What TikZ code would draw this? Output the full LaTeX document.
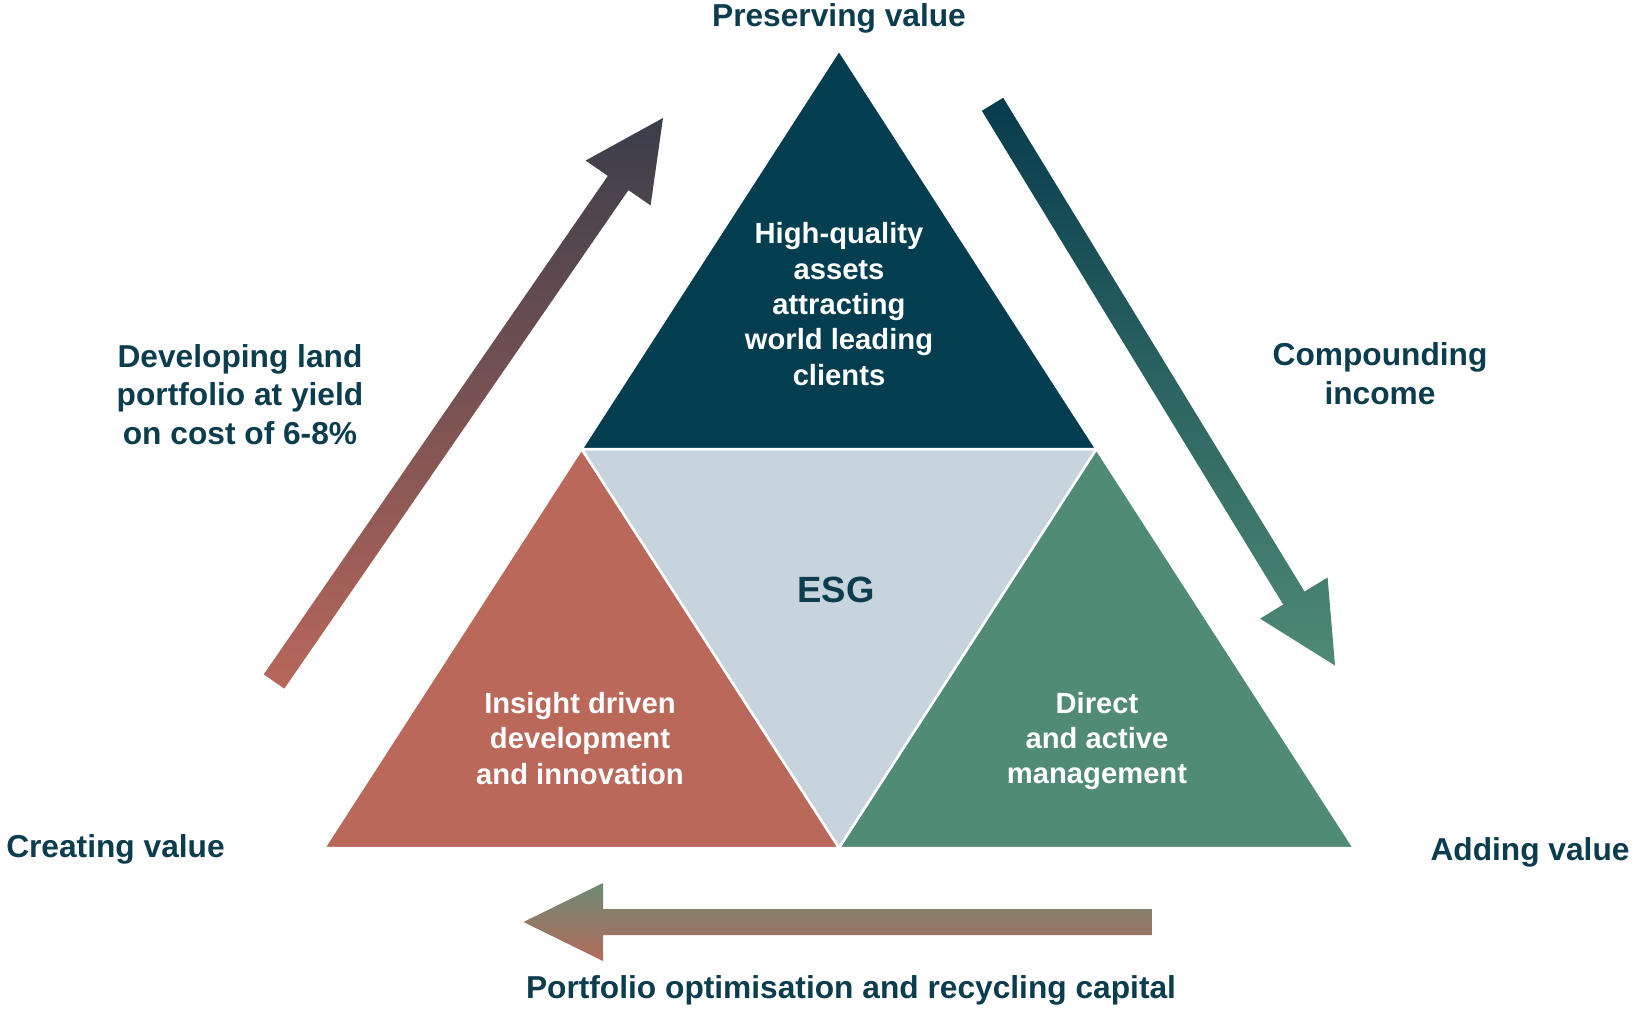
\documentclass[tikz,border=0pt]{standalone}
\usepackage{fontspec}
\setmainfont{Liberation Sans}
\usetikzlibrary{calc}
\definecolor{tealdark}{HTML}{023E50}
\definecolor{salmon}{HTML}{BA685A}
\definecolor{sage}{HTML}{508B76}
\definecolor{esgfill}{HTML}{C8D4DD}
\definecolor{labeltext}{HTML}{0B3D4F}
\definecolor{laTop}{HTML}{3A3E4B}
\definecolor{laBot}{HTML}{B9675A}
\definecolor{raTop}{HTML}{073C4D}
\definecolor{raBot}{HTML}{4F8A75}
\definecolor{baTop}{HTML}{6E8A74}
\definecolor{baBot}{HTML}{B26A5B}
\tikzset{
  tri/.style={draw=white, line width=2.5pt, line join=round},
  lbl/.style={text=labeltext, font=\bfseries\fontsize{31.7}{38.5}\selectfont, align=center, inner sep=0pt},
  innertxt/.style={text=white, font=\bfseries\fontsize{29.2}{35.3}\selectfont, align=center, inner sep=0pt},
  esgtxt/.style={text=labeltext, font=\bfseries\fontsize{36.5}{40}\selectfont, inner sep=0pt}
}
\begin{document}
\begin{tikzpicture}[x=1pt,y=-1pt]
\useasboundingbox (0,0) rectangle (1632,1009);
% triangle lattice
\coordinate (apex) at (839,50);
\coordinate (bl) at (324,848);
\coordinate (br) at (1354,848);
\coordinate (ml) at (581.5,449);
\coordinate (mr) at (1096.5,449);
\coordinate (mb) at (839,848);
\path[tri, fill=esgfill] (ml) -- (mr) -- (mb) -- cycle;
\path[tri, fill=salmon] (ml) -- (bl) -- (mb) -- cycle;
\path[tri, fill=sage] (mr) -- (mb) -- (br) -- cycle;
\path[tri, fill=tealdark] (apex) -- (ml) -- (mr) -- cycle;
% left arrow
\coordinate (LAtail) at (274,681.5);
\coordinate (LAtip) at (663,118);
\coordinate (LAhb) at ($(LAtip)!79pt!(LAtail)$);
\shade[top color=laTop, bottom color=laBot]
  ($(LAtail)!12.5pt!90:(LAtip)$) -- ($(LAhb)!12.5pt!90:(LAtip)$) -- ($(LAhb)!39.5pt!90:(LAtip)$) -- (LAtip)
  -- ($(LAhb)!39.5pt!-90:(LAtip)$) -- ($(LAhb)!12.5pt!-90:(LAtip)$) -- ($(LAtail)!12.5pt!-90:(LAtip)$) -- cycle;
% right arrow
\coordinate (RAtail) at (992.5,104.3);
\coordinate (RAtip) at (1335,665.5);
\coordinate (RAhb) at ($(RAtip)!79pt!(RAtail)$);
\shade[top color=raTop, bottom color=raBot]
  ($(RAtail)!12.5pt!90:(RAtip)$) -- ($(RAhb)!12.5pt!90:(RAtip)$) -- ($(RAhb)!39.5pt!90:(RAtip)$) -- (RAtip)
  -- ($(RAhb)!39.5pt!-90:(RAtip)$) -- ($(RAhb)!12.5pt!-90:(RAtip)$) -- ($(RAtail)!12.5pt!-90:(RAtip)$) -- cycle;
% bottom arrow
\coordinate (BAtail) at (1152,922);
\coordinate (BAtip) at (523.5,922);
\shade[top color=baTop, bottom color=baBot]
  ($(BAtail)+(0,-13)$) -- (603,909) -- (603,883) -- (BAtip) -- (603,961) -- (603,935) -- ($(BAtail)+(0,13)$) -- cycle;
% labels
\node[lbl] (preserve) at (839,18.5) {Preserving value};
\node[lbl] (create) at (115.5,849) {Creating value};
\node[lbl] (adding) at (1530,852) {Adding value};
\node[lbl] (portfolio) at (851,990) {Portfolio optimisation and recycling capital};
\node[lbl] (develop) at (240,394.5) {Developing land\\portfolio at yield\\on cost of 6-8\%};
\node[lbl] (compound) at (1380,373.5) {Compounding\\income};
% inner texts
\node[innertxt] (topt) at (839,304) {High-quality\\assets\\attracting\\world leading\\clients};
\node[innertxt] (leftt) at (580,738.5) {Insight driven\\development\\and innovation};
\node[innertxt] (rightt) at (1097,741) {Direct\\and active\\management};
\node[esgtxt] (esg) at (836,590) {ESG};
\end{tikzpicture}
\end{document}
